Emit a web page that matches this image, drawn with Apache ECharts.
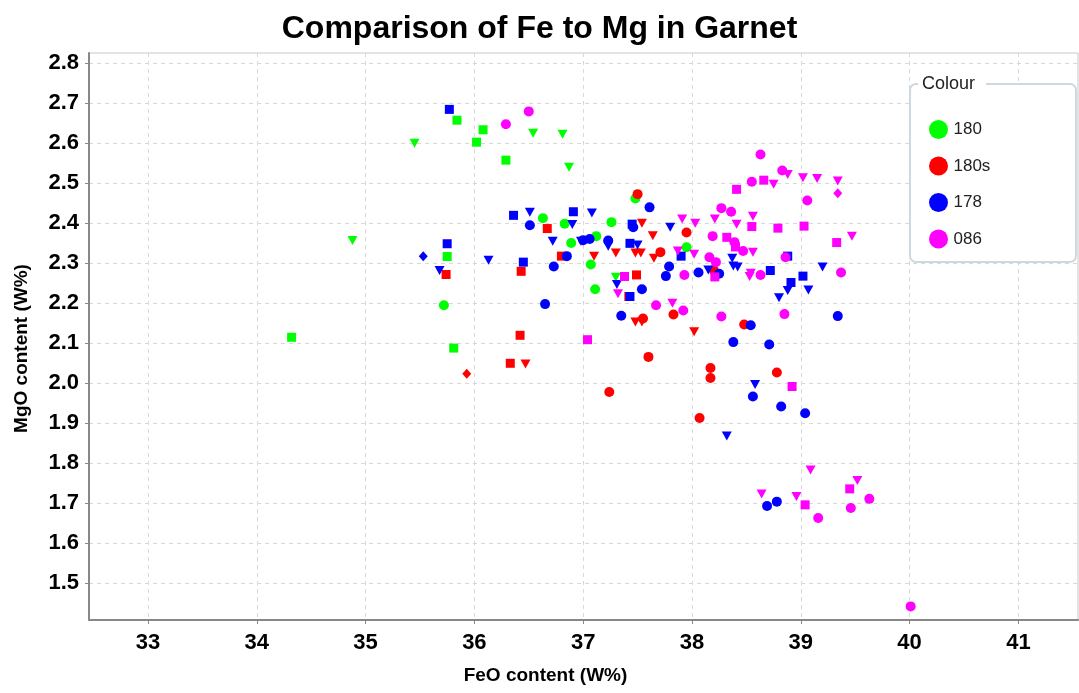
<!DOCTYPE html>
<html>
<head>
<meta charset="utf-8">
<script src="https://cdn.jsdelivr.net/npm/echarts@6/dist/echarts.min.js"></script>
<style>
  html, body { margin: 0; padding: 0; background: #fff; }
  #chart { width: 1079px; height: 693px; }
</style>
</head>
<body>
<div id="chart"></div>
<script>
// series names (legend)
const seriesNames = ['180', '180s', '178', '086'];
const seriesColors = ['#00ff00', '#ff0000', '#0000ff', '#ff00ff'];

// 180 (green)
const g180Circle = [[37.48,2.462],[36.63,2.413],[36.83,2.399],[37.26,2.403],[37.12,2.368],[36.89,2.351],[37.95,2.34],[37.07,2.297],[37.11,2.235],[35.72,2.195]];
const g180Square = [[35.84,2.658],[36.08,2.634],[36.02,2.603],[36.29,2.558],[35.75,2.317],[35.81,2.088],[34.32,2.115]];
const g180Tri = [[35.45,2.60],[36.54,2.625],[36.81,2.623],[36.87,2.54],[34.88,2.357],[37.30,2.265]];

// 180s (red)
const r180sCircle = [[37.50,2.473],[37.71,2.328],[37.95,2.377],[38.20,2.283],[37.83,2.172],[37.55,2.162],[38.48,2.147],[37.60,2.066],[38.17,2.038],[38.17,2.013],[38.78,2.027],[37.24,1.978],[38.07,1.913]];
const r180sSquare = [[36.67,2.387],[36.80,2.318],[35.74,2.272],[36.43,2.28],[37.49,2.271],[37.42,2.217],[36.42,2.12],[36.33,2.05]];
const r180sTri = [[37.54,2.40],[37.64,2.369],[37.30,2.326],[37.48,2.326],[37.53,2.326],[37.65,2.313],[37.10,2.318],[37.48,2.153],[37.54,2.153],[38.02,2.129],[36.47,2.048]];
const r180sDiamond = [[35.93,2.024]];

// 178 (blue)
const b178Circle = [[37.61,2.440],[36.51,2.395],[37.46,2.39],[37.06,2.361],[37.00,2.358],[37.23,2.357],[36.85,2.318],[36.73,2.292],[37.79,2.292],[37.76,2.268],[37.54,2.235],[36.65,2.198],[37.35,2.169],[38.06,2.277],[38.25,2.274],[38.54,2.145],[38.38,2.103],[38.71,2.097],[39.34,2.168],[38.56,1.967],[38.82,1.942],[39.04,1.925],[38.78,1.704],[38.69,1.693]];
const b178Square = [[35.77,2.685],[36.36,2.420],[36.91,2.429],[37.45,2.398],[35.75,2.349],[37.43,2.350],[36.45,2.303],[37.90,2.318],[37.43,2.217],[38.88,2.318],[38.72,2.282],[39.02,2.268],[38.91,2.252]];
const b178Tri = [[36.51,2.428],[37.08,2.426],[36.90,2.397],[37.80,2.390],[36.72,2.355],[36.98,2.355],[37.23,2.343],[37.50,2.346],[36.13,2.308],[35.68,2.282],[37.31,2.247],[38.37,2.313],[38.38,2.293],[38.42,2.291],[38.15,2.283],[39.20,2.291],[38.88,2.232],[39.07,2.233],[38.80,2.214],[38.58,1.997],[38.32,1.868]];
const b178Diamond = [[35.53,2.318]];

// 086 (magenta)
const m086Circle = [[36.50,2.680],[36.29,2.648],[38.63,2.572],[38.83,2.532],[38.55,2.504],[39.06,2.457],[38.27,2.438],[38.36,2.429],[38.19,2.368],[38.39,2.353],[38.47,2.331],[38.16,2.315],[38.22,2.303],[38.86,2.315],[37.93,2.271],[38.63,2.271],[39.37,2.277],[37.67,2.195],[37.92,2.182],[38.27,2.167],[38.85,2.173],[39.63,1.711],[39.46,1.688],[39.16,1.663],[40.01,1.442]];
const m086Square = [[38.66,2.508],[38.41,2.485],[38.55,2.392],[38.79,2.388],[39.03,2.393],[38.32,2.365],[38.40,2.341],[39.33,2.352],[37.38,2.267],[38.21,2.266],[37.04,2.109],[38.92,1.992],[39.45,1.736],[39.04,1.696]];
const m086Tri = [[38.88,2.522],[39.02,2.514],[39.15,2.512],[39.34,2.506],[38.75,2.498],[38.56,2.418],[37.91,2.411],[38.03,2.40],[38.21,2.411],[38.41,2.398],[39.47,2.368],[37.87,2.331],[38.02,2.323],[38.56,2.328],[38.54,2.275],[38.53,2.267],[37.32,2.224],[37.82,2.20],[39.09,1.783],[39.52,1.757],[38.64,1.723],[38.96,1.717]];
const m086Diamond = [[39.34,2.475]];

// x / y axis ticks
const xTicks = [33, 34, 35, 36, 37, 38, 39, 40, 41];
const yTicks = [1.5, 1.6, 1.7, 1.8, 1.9, 2.0, 2.1, 2.2, 2.3, 2.4, 2.5, 2.6, 2.7, 2.8];

// turn [x,y] lists into data items with their own marker shape
function pts(arr, shape) {
  const look = {
    circle: { symbol: 'circle', symbolSize: 10 },
    square: { symbol: 'rect', symbolSize: 9 },
    tri: { symbol: 'triangle', symbolSize: [10, 9], symbolRotate: 180 },
    diamond: { symbol: 'diamond', symbolSize: [9, 10] }
  }[shape];
  return arr.map(p => Object.assign({ value: p }, look));
}

const groups = [
  [...pts(g180Circle, 'circle'), ...pts(g180Square, 'square'), ...pts(g180Tri, 'tri')],
  [...pts(r180sCircle, 'circle'), ...pts(r180sSquare, 'square'), ...pts(r180sTri, 'tri'), ...pts(r180sDiamond, 'diamond')],
  [...pts(b178Circle, 'circle'), ...pts(b178Square, 'square'), ...pts(b178Tri, 'tri'), ...pts(b178Diamond, 'diamond')],
  [...pts(m086Circle, 'circle'), ...pts(m086Square, 'square'), ...pts(m086Tri, 'tri'), ...pts(m086Diamond, 'diamond')]
];

const FONT = '"Liberation Sans", Arial, sans-serif';
const chart = echarts.init(document.getElementById('chart'));

const option = {
  animation: false,
  backgroundColor: '#fff',
  title: {
    text: 'Comparison of Fe to Mg in Garnet',
    left: 'center',
    top: 8,
    textStyle: { fontFamily: FONT, fontSize: 32, fontWeight: 'bold', color: '#000' }
  },
  legend: {
    orient: 'vertical',
    left: 924,
    top: 115,
    z: 20,
    itemGap: 17.5,
    itemWidth: 20,
    itemHeight: 19,
    icon: 'circle',
    data: seriesNames,
    textStyle: { fontFamily: FONT, fontSize: 17, color: '#222' }
  },
  grid: {
    left: 89, top: 53, right: 1, bottom: 73,
    show: true, borderColor: '#c8c8c8', borderWidth: 1
  },
  xAxis: {
    type: 'value',
    min: 32.458,
    max: 41.548,
    name: 'FeO content (W%)',
    nameLocation: 'middle',
    nameGap: 46,
    nameTextStyle: { fontFamily: FONT, fontSize: 19, fontWeight: 'bold', color: '#000', padding: [0, 76, 0, 0] },
    axisLine: { show: true, lineStyle: { color: '#888', width: 2 } },
    axisTick: { show: true, length: 4, lineStyle: { color: '#888' }, customValues: xTicks },
    axisLabel: { fontFamily: FONT, fontSize: 22, fontWeight: 'bold', color: '#000', margin: 12, customValues: xTicks },
    splitLine: { show: true, lineStyle: { color: '#d8d8d8', type: [4, 4] } }
  },
  yAxis: {
    type: 'value',
    min: 1.408,
    max: 2.826,
    name: 'MgO content (W%)',
    nameLocation: 'middle',
    nameGap: 58,
    nameTextStyle: { fontFamily: FONT, fontSize: 19, fontWeight: 'bold', color: '#000', padding: [0, 24, 0, 0] },
    axisLine: { show: true, lineStyle: { color: '#888', width: 2 } },
    axisTick: { show: true, length: 4, lineStyle: { color: '#888' }, customValues: yTicks },
    axisLabel: {
      fontFamily: FONT, fontSize: 22, fontWeight: 'bold', color: '#000', margin: 10,
      customValues: yTicks,
      formatter: v => v.toFixed(1)
    },
    splitLine: { show: true, lineStyle: { color: '#d8d8d8', type: [4, 4] } }
  },
  graphic: [
    {
      type: 'rect', z: 5,
      shape: { x: 910, y: 84, width: 166, height: 178, r: 6 },
      style: { fill: '#fff', stroke: '#cdd9e1', lineWidth: 2 }
    },
    {
      type: 'rect', z: 6,
      shape: { x: 918, y: 76, width: 68, height: 18 },
      style: { fill: '#fff' }
    },
    {
      type: 'text', z: 7, left: 922, top: 75,
      style: { text: 'Colour', font: '18px ' + FONT, fill: '#222' }
    }
  ],
  series: groups.map((data, i) => ({
    name: seriesNames[i],
    type: 'scatter',
    itemStyle: { color: seriesColors[i], opacity: 1 },
    emphasis: { disabled: true },
    data: data
  }))
};

chart.setOption(option);
</script>
</body>
</html>
